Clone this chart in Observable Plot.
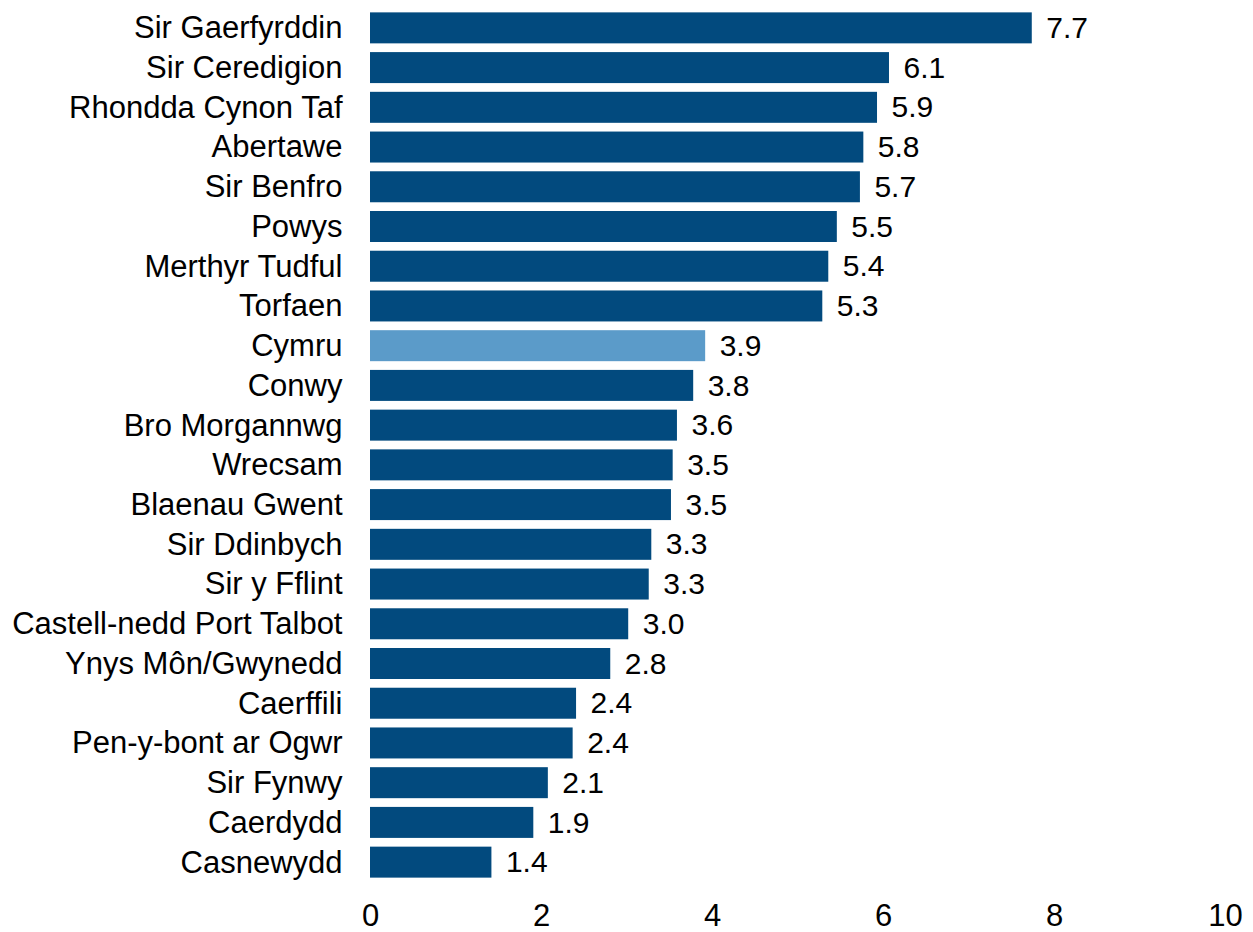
<!DOCTYPE html>
<html>
<head>
<meta charset="utf-8">
<script src="https://cdn.jsdelivr.net/npm/d3@7"></script>
<script src="https://cdn.jsdelivr.net/npm/@observablehq/plot@0.6"></script>
<style>
  html, body { margin: 0; padding: 0; background: #fff; }
</style>
</head>
<body>
<div id="chart"></div>
<script>
const areas = [
  "Sir Gaerfyrddin", "Sir Ceredigion", "Rhondda Cynon Taf", "Abertawe", "Sir Benfro",
  "Powys", "Merthyr Tudful", "Torfaen", "Cymru", "Conwy", "Bro Morgannwg", "Wrecsam",
  "Blaenau Gwent", "Sir Ddinbych", "Sir y Fflint", "Castell-nedd Port Talbot",
  "Ynys Môn/Gwynedd", "Caerffili", "Pen-y-bont ar Ogwr", "Sir Fynwy", "Caerdydd", "Casnewydd"
];
const values = [
  7.74, 6.07, 5.93, 5.77, 5.73, 5.46, 5.36, 5.29, 3.92, 3.78, 3.59, 3.54,
  3.52, 3.29, 3.26, 3.02, 2.81, 2.41, 2.37, 2.08, 1.91, 1.42
];
const xTicks = [0, 2, 4, 6, 8, 10];
const highlight = "Cymru";

const data = areas.map((a, i) => ({area: a, value: values[i]}));
const fmt = d3.format(".1f");

const chart = Plot.plot({
  width: 1253,
  height: 932,
  marginLeft: 370,
  marginRight: 28,
  marginTop: 8,
  marginBottom: 50,
  style: {fontFamily: "'Liberation Sans', Arial, sans-serif", fontSize: "31px", color: "#000", background: "#fff"},
  x: {domain: [0, 10], ticks: xTicks, tickSize: 0, tickPadding: 21, label: null, tickFormat: d => d},
  y: {domain: areas, tickSize: 0, tickPadding: 28, label: null, paddingInner: 0.22, paddingOuter: 0.11, align: 0.5, round: false},
  marks: [
    Plot.barX(data, {
      x: "value", y: "area",
      fill: d => d.area === highlight ? "#5b9bc9" : "#024a7e"
    }),
    Plot.text(data, {
      x: "value", y: "area", text: d => fmt(d.value),
      textAnchor: "start", dx: 14, fill: "#000", fontSize: 30
    })
  ]
});
document.getElementById("chart").appendChild(chart);
</script>
</body>
</html>
